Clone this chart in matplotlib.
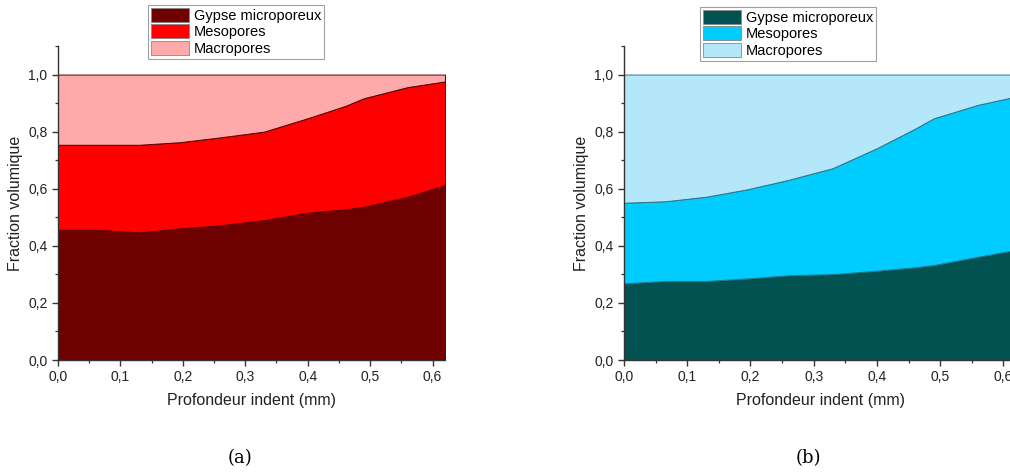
import matplotlib
matplotlib.use("Agg")
import matplotlib.pyplot as plt
from matplotlib.ticker import MultipleLocator, FuncFormatter
from matplotlib.patches import Patch

depth = [0.0, 0.065, 0.13, 0.195, 0.26, 0.33, 0.40, 0.46, 0.49, 0.56, 0.62]

# Panel (a): cumulative boundaries
gypse_a = [0.456, 0.456, 0.447, 0.461, 0.472, 0.490, 0.516, 0.528, 0.537, 0.572, 0.613]
meso_top_a = [0.754, 0.754, 0.754, 0.763, 0.780, 0.800, 0.847, 0.890, 0.917, 0.956, 0.976]

# Panel (b)
gypse_b = [0.269, 0.277, 0.277, 0.286, 0.297, 0.301, 0.313, 0.325, 0.333, 0.362, 0.386]
meso_top_b = [0.551, 0.556, 0.572, 0.598, 0.631, 0.672, 0.742, 0.810, 0.847, 0.894, 0.923]

labels = ["Gypse microporeux", "Mesopores", "Macropores"]
colors_a = ["#6e0000", "#ff0000", "#ffaaaa"]
colors_b = ["#025252", "#00ccff", "#b5e7fb"]
edge_a = "#5a0000"
edge_b = "#2a7585"
captions = ["(a)", "(b)"]

plt.rcParams['font.family'] = ['Liberation Sans', 'DejaVu Sans']

fig = plt.figure(figsize=(10.10, 4.74), dpi=100)
W, H = 1010, 474

def fmt(v, pos):
    return ("%.1f" % v).replace(".", ",")

def panel(left_px, width_px, gypse, top, colors, edge, leg_left_px, leg_top_px, cap, cap_x):
    ax = fig.add_axes([left_px / W, (H - 360) / H, width_px / W, (360 - 46) / H])
    meso = [t - g for t, g in zip(top, gypse)]
    macro = [1.0 - t for t in top]
    ax.stackplot(depth, gypse, meso, macro, colors=colors,
                 edgecolor=edge, linewidth=0.7)
    ax.set_xlim(0, 0.62)
    ax.set_ylim(0, 1.1)
    for s in ["top", "right"]:
        ax.spines[s].set_visible(False)
    for s in ["left", "bottom"]:
        ax.spines[s].set_color("#333333")
        ax.spines[s].set_linewidth(1.0)
    ax.xaxis.set_major_locator(MultipleLocator(0.1))
    ax.xaxis.set_minor_locator(MultipleLocator(0.05))
    ax.yaxis.set_major_locator(MultipleLocator(0.2))
    ax.yaxis.set_minor_locator(MultipleLocator(0.1))
    ax.xaxis.set_major_formatter(FuncFormatter(fmt))
    ax.yaxis.set_major_formatter(FuncFormatter(fmt))
    ax.tick_params(which="major", direction="out", length=4, width=1.0,
                   color="#333333", labelsize=10, labelcolor="#222222")
    ax.tick_params(which="minor", direction="out", length=2.5, width=0.9, color="#333333")
    ax.set_xlabel("Profondeur indent (mm)", fontsize=11.5, color="#222222", labelpad=6)
    ax.set_ylabel("Fraction volumique", fontsize=11.5, color="#222222", labelpad=4)
    handles = [Patch(facecolor=c, edgecolor="#888888", linewidth=0.6) for c in colors]
    leg = fig.legend(handles, labels, loc="upper left",
                     bbox_to_anchor=(leg_left_px / W, 1 - leg_top_px / H),
                     fontsize=10.5, frameon=True, fancybox=False, borderpad=0.2,
                     handlelength=2.6, handleheight=1.1, handletextpad=0.35,
                     labelspacing=0.1, borderaxespad=0)
    leg.get_frame().set_edgecolor("#888888")
    leg.get_frame().set_linewidth(0.8)
    fig.text(cap_x / W, 1 - 458 / H, cap, ha="center", va="center",
             fontsize=13, family=["DejaVu Serif"])
    return ax

panel(58, 387, gypse_a, meso_top_a, colors_a, edge_a, 148, 5, captions[0], 240)
panel(624, 392, gypse_b, meso_top_b, colors_b, edge_b, 700, 7, captions[1], 808)

fig.savefig("out.png", dpi=100)
